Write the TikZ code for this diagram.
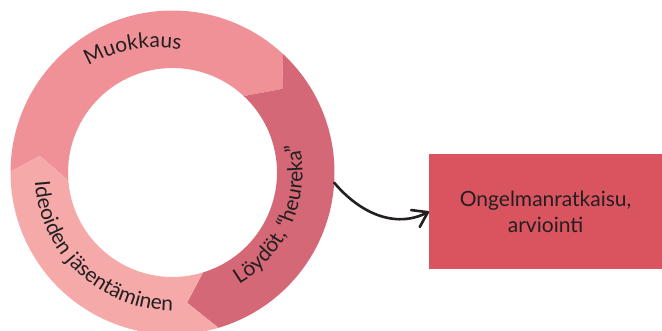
\documentclass[tikz,border=0pt]{standalone}
\usepackage{fontspec}
\setmainfont{Lato}
\usetikzlibrary{decorations.text,arrows.meta}
\definecolor{segA}{HTML}{F09198}
\definecolor{segB}{HTML}{D46876}
\definecolor{segC}{HTML}{F5A9A8}
\definecolor{boxc}{HTML}{D9545F}
\definecolor{ink}{HTML}{231F20}
\newcommand\ringfont{\fontsize{21}{25}\selectfont}
\begin{document}
\begin{tikzpicture}[x=1pt,y=1pt,
  ringtext/.style={decorate, decoration={text along path, text align=center,
      text color=ink, text={#1}}},
  resbox/.style={fill=boxc, minimum width=232.7pt, minimum height=115.3pt,
      inner sep=0pt, align=center, text=ink,
      font=\fontsize{21}{26}\selectfont},
  conn/.style={draw=ink, line width=2.6pt, line cap=round,
      -{Straight Barb[length=14pt, width=19pt, round]}}]
\useasboundingbox (0,0) rectangle (662,331);

% three ring segments, each ending in a shallow arrow head
\begin{scope}[shift={(172.5,158.5)}]
  \fill[segA] (179.7:162) arc[start angle=179.7, end angle=47, radius=162]
    -- (37.3:138) -- (47:104.5) arc[start angle=47, end angle=184.4, radius=104.5]
    -- (172.8:133.6) -- cycle;
  \fill[segB] (47:162) arc[start angle=47, end angle=-73.5, radius=162]
    -- (-83.6:131) -- (-73:104.5) arc[start angle=-73, end angle=47, radius=104.5]
    -- (37.3:138) -- cycle;
  \fill[segC] (-73.5:162) arc[start angle=-73.5, end angle=-180.3, radius=162]
    -- (-187.2:133.6) -- (-175.6:104.5) arc[start angle=-175.6, end angle=-73, radius=104.5]
    -- (-83.6:131) -- cycle;

  % curved labels
  \path[ringtext={|\ringfont|Muokkaus}]
    (-15.8,-11) ++(140:136) arc[start angle=140, end angle=60, radius=136];
  \path[ringtext={|\ringfont|Löydöt, “heureka”}]
    (-63:130) arc[start angle=-63, end angle=17, radius=130];
  \path[ringtext={|\ringfont|Ideoiden jäsentäminen}]
    (182:138) arc[start angle=182, end angle=272, radius=138];

  \coordinate (src) at (-3.6:162);
\end{scope}

\node[resbox] (res) at (545.6,119.4) {Ongelmanratkaisu,\\arviointi};

\draw[conn] (src) to[out=-50, in=207] (res.west);
\end{tikzpicture}
\end{document}
